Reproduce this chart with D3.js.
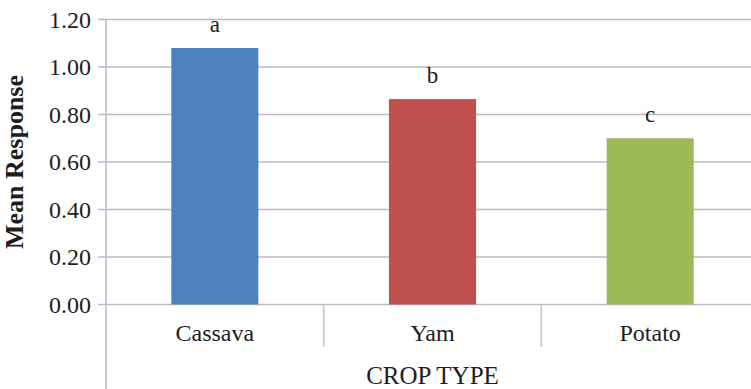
<!DOCTYPE html>
<html>
<head>
<meta charset="utf-8">
<script src="https://cdn.jsdelivr.net/npm/d3@7"></script>
<style>
  html, body { margin: 0; padding: 0; background: #fff; }
  svg { display: block; }
  text { font-family: "Liberation Serif", "Times New Roman", serif; fill: #1e1e1e; }
</style>
</head>
<body>
<svg id="chart" width="751" height="389"></svg>
<script>
// Mean response by crop type, with significance letters
const crops = ["Cassava", "Yam", "Potato"];
const meanResponse = [1.08, 0.865, 0.70];
const groupLetters = ["a", "b", "c"];
const barColors = ["#4F81BD", "#C0504D", "#9BBB59"];
const yTicks = [0, 0.2, 0.4, 0.6, 0.8, 1.0, 1.2];

const svg = d3.select("#chart");
const plotLeft = 106, plotRight = 759, plotTop = 19.5, plotBottom = 304.5;

const x = d3.scaleBand().domain(crops).range([plotLeft, plotRight]).paddingInner(0.6).paddingOuter(0.3);
const y = d3.scaleLinear().domain([0, 1.2]).range([plotBottom, plotTop]);

// horizontal gridlines with short outward ticks
svg.append("g").selectAll("line").data(yTicks).join("line")
  .attr("x1", plotLeft - 8).attr("x2", plotRight)
  .attr("y1", d => y(d)).attr("y2", d => y(d))
  .attr("stroke", d => d === 0 ? "#BDBDC4" : "#BBBBBB").attr("stroke-width", 1.6);

// y tick labels
svg.append("g").selectAll("text").data(yTicks).join("text")
  .attr("x", 91).attr("y", d => y(d) + 8)
  .attr("text-anchor", "end")
  .attr("font-size", 24)
  .text(d => d3.format(".2f")(d));

// category separators below the baseline
const bandEdges = crops.slice(1).map(c => x(c) - x.step() * x.paddingInner() / 2);
svg.append("g").selectAll("line").data(bandEdges).join("line")
  .attr("x1", d => d).attr("x2", d => d)
  .attr("y1", plotBottom).attr("y2", 347)
  .attr("stroke", "#C4C6D2").attr("stroke-width", 1.6);

// vertical axis line
svg.append("line")
  .attr("x1", plotLeft).attr("x2", plotLeft).attr("y1", plotTop).attr("y2", 389)
  .attr("stroke", "#B8BCD2").attr("stroke-width", 1.6);

// bars
const data = crops.map((c, i) => ({ crop: c, value: meanResponse[i], letter: groupLetters[i], color: barColors[i] }));
svg.append("g").selectAll("rect").data(data).join("rect")
  .attr("x", d => x(d.crop)).attr("width", x.bandwidth())
  .attr("y", d => y(d.value)).attr("height", d => y(0) - y(d.value))
  .attr("fill", d => d.color);

// significance letters
svg.append("g").selectAll("text").data(data).join("text")
  .attr("x", d => x(d.crop) + x.bandwidth() / 2)
  .attr("y", d => y(d.value) - 16)
  .attr("text-anchor", "middle").attr("font-size", 23)
  .text(d => d.letter);

// category labels
svg.append("g").selectAll("text").data(crops).join("text")
  .attr("x", d => x(d) + x.bandwidth() / 2).attr("y", 341)
  .attr("text-anchor", "middle").attr("font-size", 24)
  .text(d => d);

// axis titles
svg.append("text")
  .attr("x", (x(crops[1]) + x.bandwidth() / 2)).attr("y", 384)
  .attr("text-anchor", "middle").attr("font-size", 25)
  .text("CROP TYPE");

svg.append("text")
  .attr("transform", "translate(23,162) rotate(-90)")
  .attr("text-anchor", "middle").attr("font-size", 26).attr("font-weight", "bold")
  .text("Mean Response");
</script>
</body>
</html>
